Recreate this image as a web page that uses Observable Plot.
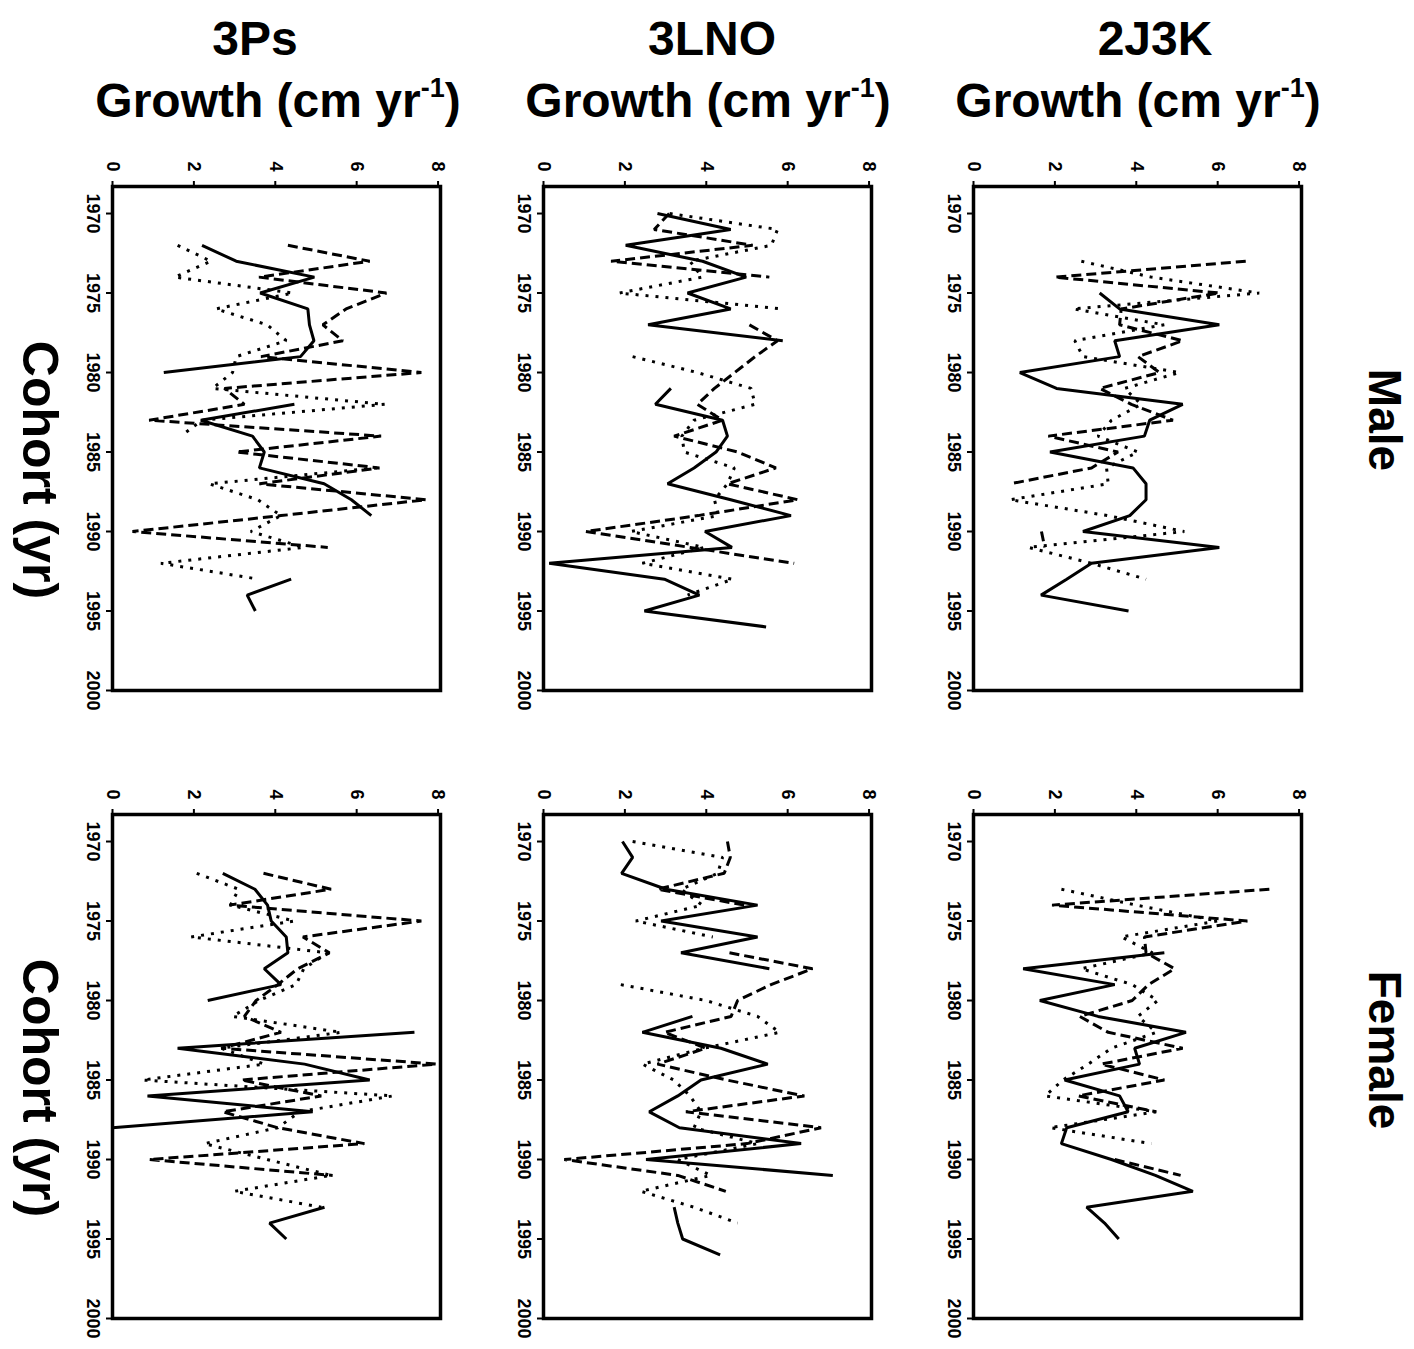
<!DOCTYPE html>
<html><head><meta charset="utf-8">
<script src="https://cdn.jsdelivr.net/npm/d3@7"></script>
<script src="https://cdn.jsdelivr.net/npm/@observablehq/plot@0.6"></script>
<style>
html,body{margin:0;padding:0;background:#fff;}
body{width:1414px;height:1349px;position:relative;overflow:hidden;font-family:"Liberation Sans",Arial,sans-serif;color:#000;}
.t{position:absolute;font-weight:bold;font-size:48px;white-space:nowrap;transform:translate(-50%,0);line-height:1;}
.r{position:absolute;font-weight:bold;font-size:46px;white-space:nowrap;transform:translate(-50%,-50%) rotate(90deg);line-height:1;}
.c{font-size:50px;}
.sup{font-size:27px;position:relative;top:-20px;}
.p{position:absolute;}
.p svg text{font-size:18px;font-weight:bold;}
</style></head><body>
<div id="root"></div>
<script>
// ---- data ----
const cohorts = [1970,1971,1972,1973,1974,1975,1976,1977,1978,1979,1980,1981,1982,1983,1984,1985,1986,1987,1988,1989,1990,1991,1992,1993,1994,1995,1996];
const growthTicks = [0,2,4,6,8];
const cohortTicks = [1970,1975,1980,1985,1990,1995,2000];
const stocks = ["3Ps","3LNO","2J3K"];
const sexes = ["Male","Female"];

// 3Ps male
const m3PsSolid  = [null,null,2.2,3.04,4.96,3.63,4.8,4.84,4.95,4.62,1.26,null,4.47,2.17,3.44,3.73,3.61,5.2,5.87,6.36,null,null,null,4.39,3.31,3.51,null];
const m3PsDashed = [null,null,4.31,6.32,3.6,6.73,5.74,5.17,5.66,3.65,7.59,2.75,3.24,0.9,6.6,3.04,6.56,3.61,7.71,4.14,0.49,5.29,null,null,null,null,null];
const m3PsDotted = [null,null,1.6,2.42,1.53,4.43,2.54,3.8,4.27,3.04,2.95,2.46,6.69,2.2,1.68,null,6.5,2.38,3.57,4.14,3.4,4.7,1.19,3.6,null,null,null];
// 3LNO male
const m3LNOSolid  = [2.8,4.6,2.02,3.91,4.98,3.54,4.6,2.57,5.88,null,null,3.13,2.75,4.4,4.52,4.24,3.7,3.05,4.6,6.08,3.97,4.63,0.14,2.97,3.83,2.48,5.47];
const m3LNODashed = [3.09,2.72,5.14,1.66,5.55,null,null,5.06,5.75,5.2,4.7,4.2,3.78,4.4,3.21,4.77,5.71,4.52,6.25,3.8,1.04,3.6,6.16,null,null,null,null];
const m3LNODotted = [3.1,5.75,5.6,3.6,3.9,1.86,5.88,null,null,2.19,3.78,5.1,5.2,3.7,3.4,3.46,4.69,4.52,4.2,4.3,2.15,3.95,2.43,4.65,3.54,null,null];
// 2J3K male
const m2J3KSolid  = [null,null,null,null,null,3.1,3.59,6.04,3.47,3.59,1.14,2.04,5.14,4.33,4.2,1.88,3.92,4.24,4.24,3.84,2.69,6.04,2.9,2.29,1.66,3.81,null];
const m2J3KDashed = [null,null,null,6.69,2.0,6.04,3.63,3.59,5.14,4.04,4.57,3.1,3.88,4.9,1.84,3.55,2.9,0.9,null,null,1.67,1.75,null,null,null,null,null];
const m2J3KDotted = [null,null,null,2.65,4.37,7.02,2.45,4.69,2.49,2.69,5.06,3.71,4.12,3.39,3.06,4.04,3.27,3.31,0.9,3.3,5.18,1.35,2.9,4.24,null,null,null];
// 3Ps female
const f3PsSolid  = [null,null,2.71,3.5,3.81,3.9,4.27,4.31,3.73,4.14,2.34,null,7.42,1.6,4.72,6.32,0.86,4.92,0.0,null,null,null,null,5.21,3.86,4.27,null];
const f3PsDashed = [null,null,3.71,5.37,2.87,7.59,4.68,5.33,4.55,4.06,3.53,3.24,4.14,2.67,7.96,3.16,5.13,2.71,4.06,6.19,0.9,5.41,null,null,null,null,null];
const f3PsDotted = [null,null,2.07,3.1,2.9,4.47,1.93,5.29,4.7,4.51,3.6,2.95,5.62,2.67,3.73,0.74,6.89,4.6,4.06,2.26,3.8,5.37,2.99,5.13,null,null,null];
// 3LNO female
const f3LNOSolid  = [1.94,2.19,1.92,3.01,5.26,2.89,5.26,3.38,5.55,null,null,3.66,2.43,4.36,5.51,3.87,3.3,2.6,3.34,6.33,2.52,7.11,null,3.21,3.3,3.42,4.34];
const f3LNODashed = [4.52,4.59,4.44,2.8,4.93,null,null,4.57,6.61,5.59,4.77,4.61,2.97,3.99,2.8,4.5,6.41,3.5,6.82,5.0,0.51,3.3,4.48,null,null,null,null];
const f3LNODotted = [2.19,4.4,4.28,3.38,3.9,2.27,4.16,null,null,1.9,3.99,5.26,5.8,3.95,2.43,3.2,3.6,3.87,3.7,5.26,3.3,4.11,2.39,3.7,4.77,null,null];
// 2J3K female
const f2J3KSolid  = [null,null,null,null,null,null,null,4.69,1.22,3.47,1.63,3.06,5.22,3.96,4.08,2.24,3.59,3.8,2.29,2.16,3.39,4.47,5.39,2.78,3.22,3.57,null];
const f2J3KDashed = [null,null,null,7.27,1.93,6.73,4.2,4.24,4.94,4.3,3.9,2.61,3.31,5.14,3.14,4.69,2.57,4.49,null,null,3.47,5.09,null,null,null,null,null];
const f2J3KDotted = [null,null,null,2.16,4.0,6.0,3.63,4.4,2.65,3.9,4.53,4.04,4.49,3.39,2.82,2.2,1.76,4.49,1.88,4.37,null,null,null,null,null,null,null];

const panelData = {
  "Male":   {"3Ps":[m3PsSolid,m3PsDashed,m3PsDotted], "3LNO":[m3LNOSolid,m3LNODashed,m3LNODotted], "2J3K":[m2J3KSolid,m2J3KDashed,m2J3KDotted]},
  "Female": {"3Ps":[f3PsSolid,f3PsDashed,f3PsDotted], "3LNO":[f3LNOSolid,f3LNODashed,f3LNODotted], "2J3K":[f2J3KSolid,f2J3KDashed,f2J3KDotted]}
};

// ---- layout ----
const colX0 = [111.7, 542.7, 973.3];   // x pixel of growth 0
const rowTop = [185.7, 814];          // y pixel of frame top
const mL = 45, mT = 50, mR = 8, mB = 8;
const innerW = 328, innerH = 504;
const dashes = [null, "10,5", "3,7"];

const root = document.getElementById("root");

sexes.forEach((sex, ri) => {
  stocks.forEach((stock, ci) => {
    const series = panelData[sex][stock];
    const marks = [];
    series.forEach((vals, si) => {
      const rows = cohorts.map((c, i) => ({cohort: c, growth: vals[i]}));
      marks.push(Plot.line(rows, {
        x: "growth", y: "cohort", stroke: "black", strokeWidth: 3,
        strokeDasharray: dashes[si] || undefined, strokeLinejoin: "miter", strokeLinecap: "butt"
      }));
    });
    marks.push(Plot.frame({stroke: "black", strokeWidth: 3.5}));
    marks.push(Plot.axisX({anchor: "top", ticks: growthTicks, tickSize: 6, tickPadding: 9,
      tickRotate: 90, textAnchor: "end", lineAnchor: "middle", strokeWidth: 2,
      tickFormat: d => String(d), label: null}));
    marks.push(Plot.axisY({anchor: "left", ticks: cohortTicks, tickSize: 6, tickPadding: 7,
      tickRotate: 90, textAnchor: "middle", lineAnchor: "top", strokeWidth: 2,
      tickFormat: d => String(d), label: null}));
    const svg = Plot.plot({
      width: mL + innerW + mR, height: mT + innerH + mB,
      marginLeft: mL, marginTop: mT, marginRight: mR, marginBottom: mB,
      x: {domain: [0, 8.06]},
      y: {domain: [1968.3, 2000], reverse: true},
      style: {fontFamily: "'Liberation Sans', Arial, sans-serif", fontSize: "18px", fontWeight: "bold", background: "transparent", overflow: "visible", color: "black"},
      marks
    });
    const wrap = document.createElement("div");
    wrap.className = "p";
    wrap.style.left = (colX0[ci] - mL) + "px";
    wrap.style.top = (rowTop[ri] - mT) + "px";
    wrap.appendChild(svg);
    root.appendChild(wrap);
  });
});

// ---- titles ----
function addDiv(cls, html, left, top) {
  const d = document.createElement("div");
  d.className = cls; d.innerHTML = html;
  d.style.left = left + "px"; d.style.top = top + "px";
  document.body.appendChild(d);
}
const titleCenters = [255, 712, 1155];
const growthCenters = [278, 708, 1138];
stocks.forEach((s, i) => {
  addDiv("t", s, titleCenters[i], 15);
  addDiv("t", 'Growth (cm yr<span class="sup">-1</span>)', growthCenters[i], 77);
});
addDiv("r c", "Cohort (yr)", 40, 470);
addDiv("r c", "Cohort (yr)", 40, 1088);
addDiv("r", sexes[0], 1385, 420);
addDiv("r", sexes[1], 1385, 1050);
</script>
</body></html>
